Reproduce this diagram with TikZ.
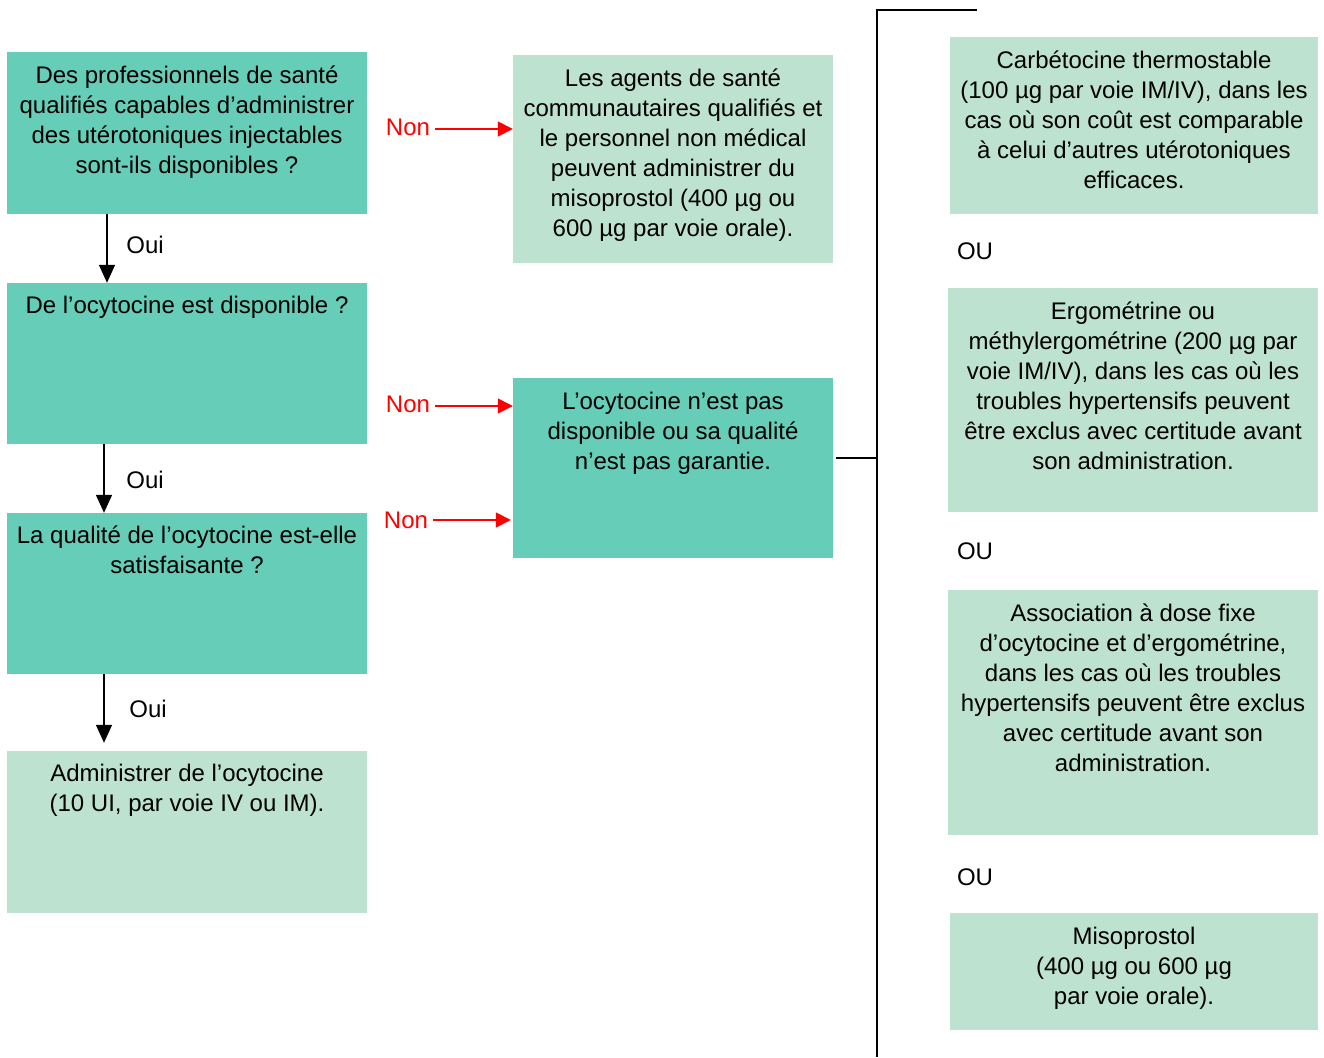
\documentclass[tikz,border=0pt]{standalone}
\usepackage{fontspec}
\setmainfont{Liberation Sans}
\usetikzlibrary{arrows.meta}
\definecolor{darkbox}{HTML}{66CDB8}
\definecolor{lightbox}{HTML}{BDE2CF}
\definecolor{nonred}{HTML}{FF0000}
\begin{document}
\begin{tikzpicture}[x=1pt,y=-1pt,
  every node/.style={font=\fontsize{24}{30}\selectfont, inner sep=0pt},
  dbox/.style={fill=darkbox, draw=none, rectangle},
  lbox/.style={fill=lightbox, draw=none, rectangle},
  txt/.style={align=center, anchor=north},
  nonlbl/.style={text=nonred},
  yesarrow/.style={-{Triangle[width=16pt,length=18pt]}, line width=1.5pt, black},
  noarrow/.style={-{Triangle[width=15pt,length=15pt]}, line width=1.5pt, nonred},
  bracket/.style={line width=1.6pt, black}
]
\useasboundingbox (0,0) rectangle (1324,1057);

% left column
\node[dbox, minimum width=360pt, minimum height=162pt] (b1) at (187,133) {};
\node[txt] at ([yshift=-10pt]b1.north) {\strut Des professionnels de santé\\ qualifiés capables d’administrer\\ des utérotoniques injectables\\ sont-ils disponibles ?};

\node[dbox, minimum width=360pt, minimum height=161pt] (b2) at (187,363.5) {};
\node[txt] at ([yshift=-9pt]b2.north) {\strut De l’ocytocine est disponible ?};

\node[dbox, minimum width=360pt, minimum height=161pt] (b3) at (187,593.5) {};
\node[txt] at ([yshift=-9pt]b3.north) {\strut La qualité de l’ocytocine est-elle\\ satisfaisante ?};

\node[lbox, minimum width=360pt, minimum height=162pt] (b4) at (187,832) {};
\node[txt] at ([yshift=-9pt]b4.north) {\strut Administrer de l’ocytocine\\ (10 UI, par voie IV ou IM).};

% middle column
\node[lbox, minimum width=320pt, minimum height=208pt] (ma) at (673,159) {};
\node[txt] at ([yshift=-10pt]ma.north) {\strut Les agents de santé\\ communautaires qualifiés et\\ le personnel non médical\\ peuvent administrer du\\ misoprostol (400 µg ou\\ 600 µg par voie orale).};

\node[dbox, minimum width=320pt, minimum height=180pt] (mb) at (673,468) {};
\node[txt] at ([yshift=-10pt]mb.north) {\strut L’ocytocine n’est pas\\ disponible ou sa qualité\\ n’est pas garantie.};

% right column
\node[lbox, minimum width=368pt, minimum height=177pt] (r1) at (1134,125.5) {};
\node[txt] at ([yshift=-10pt]r1.north) {\strut Carbétocine thermostable\\ (100 µg par voie IM/IV), dans les\\ cas où son coût est comparable\\ à celui d’autres utérotoniques\\ efficaces.};

\node[lbox, minimum width=370pt, minimum height=224pt] (r2) at (1133,400) {};
\node[txt] at ([yshift=-10pt]r2.north) {\strut Ergométrine ou\\ méthylergométrine (200 µg par\\ voie IM/IV), dans les cas où les\\ troubles hypertensifs peuvent\\ être exclus avec certitude avant\\ son administration.};

\node[lbox, minimum width=370pt, minimum height=245pt] (r3) at (1133,712.5) {};
\node[txt] at ([yshift=-10pt]r3.north) {\strut Association à dose fixe\\ d’ocytocine et d’ergométrine,\\ dans les cas où les troubles\\ hypertensifs peuvent être exclus\\ avec certitude avant son\\ administration.};

\node[lbox, minimum width=368pt, minimum height=117pt] (r4) at (1134,971.5) {};
\node[txt] at ([yshift=-10pt]r4.north) {\strut Misoprostol\\ (400 µg ou 600 µg\\ par voie orale).};

\node (ou1) at (975,251) {OU};
\node (ou2) at (975,551) {OU};
\node (ou3) at (975,877) {OU};

% yes arrows
\node (oui1) at (145,245) {Oui};
\node (oui2) at (145,480) {Oui};
\node (oui3) at (148,709) {Oui};
\draw[yesarrow] ([xshift=-80pt]b1.south) -- ([xshift=-80pt]b2.north);
\draw[yesarrow] ([xshift=-83pt]b2.south) -- ([xshift=-83pt]b3.north);
\draw[yesarrow, shorten >=8pt] ([xshift=-83pt]b3.south) -- ([xshift=-83pt]b4.north);

% no arrows
\node[nonlbl] (non1) at (408,127) {Non};
\node[nonlbl] (non2) at (408,404) {Non};
\node[nonlbl] (non3) at (406,520) {Non};
\draw[noarrow] ([xshift=5pt,yshift=-2pt]non1.east) -- ([yshift=-2pt]ma.west |- non1.east);
\draw[noarrow] ([xshift=5pt,yshift=-2pt]non2.east) -- ([yshift=-2pt]mb.west |- non2.east);
\draw[noarrow, shorten >=2pt] ([xshift=5pt]non3.east) -- (mb.west |- non3.east);

% bracket
\coordinate (jn) at (877,458);
\coordinate (btop) at (877,10);
\coordinate (btopend) at (977,10);
\coordinate (bbot) at (877,1057);
\draw[bracket] (btopend) -- (btop) -- (bbot);
\draw[bracket] ([xshift=3pt]mb.east |- jn) -- (jn);
\end{tikzpicture}
\end{document}
